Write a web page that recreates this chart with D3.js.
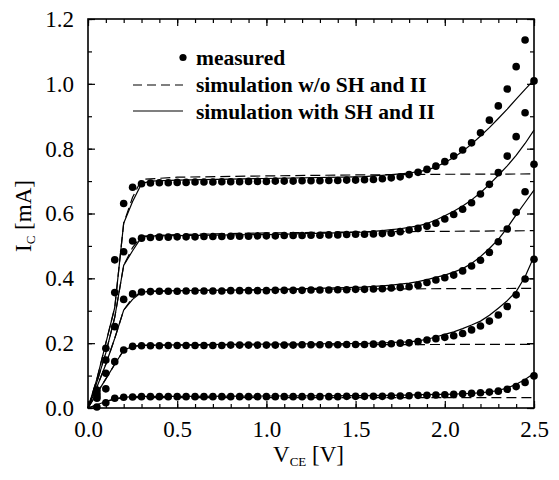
<!DOCTYPE html>
<html><head><meta charset="utf-8">
<script src="https://cdn.jsdelivr.net/npm/d3@7"></script>
<style>
body{margin:0;background:#fff}
svg text{font-family:"Liberation Serif","Times New Roman",Times,serif;fill:#000}
</style>
</head><body>
<svg id="chart" width="559" height="480"></svg>
<script>
// ---- data ----
const vMeas = [0.05,0.10,0.15,0.20,0.25,0.30,0.35,0.40,0.45,0.50,
               0.55,0.60,0.65,0.70,0.75,0.80,0.85,0.90,0.95,1.00,
               1.05,1.10,1.15,1.20,1.25,1.30,1.35,1.40,1.45,1.50,
               1.55,1.60,1.65,1.70,1.75,1.80,1.85,1.90,1.95,2.00,
               2.05,2.10,2.15,2.20,2.25,2.30,2.35,2.40,2.45,2.50];
const meas1 = [0.003,0.016,0.030,0.033,0.034,0.035,0.035,0.035,0.035,0.035,
               0.035,0.035,0.035,0.035,0.035,0.035,0.035,0.035,0.035,0.035,
               0.035,0.035,0.035,0.035,0.035,0.035,0.035,0.035,0.036,0.036,
               0.036,0.036,0.036,0.037,0.037,0.038,0.039,0.039,0.040,0.041,
               0.042,0.044,0.045,0.047,0.049,0.052,0.058,0.066,0.079,0.099];
const meas2 = [0.030,0.059,0.143,0.179,0.190,0.192,0.192,0.192,0.193,0.193,
               0.193,0.193,0.193,0.193,0.193,0.194,0.194,0.194,0.194,0.194,
               0.194,0.194,0.194,0.195,0.195,0.195,0.195,0.195,0.196,0.196,
               0.196,0.197,0.197,0.198,0.200,0.201,0.205,0.210,0.214,0.218,
               0.223,0.230,0.241,0.253,0.268,0.287,0.313,0.349,0.398,0.459];
const meas3 = [0.037,0.107,0.251,0.335,0.352,0.358,0.359,0.360,0.360,0.360,
               0.361,0.361,0.361,0.361,0.361,0.362,0.362,0.362,0.362,0.362,
               0.363,0.363,0.363,0.363,0.364,0.364,0.364,0.365,0.365,0.366,
               0.366,0.367,0.368,0.370,0.372,0.374,0.379,0.387,0.395,0.402,
               0.410,0.423,0.438,0.456,0.480,0.513,0.552,0.604,0.667,0.752];
const meas4 = [0.045,0.148,0.356,0.482,0.515,0.524,0.526,0.527,0.527,0.528,
               0.528,0.528,0.529,0.529,0.529,0.530,0.530,0.530,0.531,0.531,
               0.531,0.532,0.532,0.532,0.533,0.533,0.534,0.534,0.535,0.536,
               0.536,0.537,0.538,0.539,0.544,0.549,0.554,0.561,0.570,0.583,
               0.597,0.613,0.633,0.660,0.690,0.726,0.777,0.837,0.911,1.009];
const meas5 = [0.055,0.184,0.457,0.631,0.681,0.692,0.694,0.695,0.695,0.696,
               0.696,0.697,0.697,0.697,0.698,0.698,0.698,0.699,0.699,0.699,
               0.700,0.700,0.700,0.701,0.701,0.701,0.702,0.702,0.703,0.703,
               0.704,0.705,0.707,0.710,0.713,0.720,0.727,0.736,0.746,0.760,
               0.777,0.796,0.818,0.849,0.888,0.932,0.984,1.053,1.135,null];

// simulation with self-heating and impact ionization (solid)
const vSim = [0,0.05,0.10,0.15,0.20,0.25,0.30,0.35,0.50,1.00,
              1.50,1.55,1.60,1.65,1.70,1.75,1.80,1.85,1.90,1.95,
              2.00,2.05,2.10,2.15,2.20,2.25,2.30,2.35,2.40,2.45,2.50];
const simSH1 = [0,0.010,0.020,0.028,0.033,0.035,0.036,0.036,0.036,0.037,
                0.038,0.038,0.039,0.039,0.039,0.040,0.040,0.041,0.041,0.042,
                0.042,0.043,0.044,0.045,0.047,0.050,0.054,0.062,0.073,0.088,0.107];
const simSH2 = [0,0.045,0.090,0.135,0.178,0.190,0.193,0.194,0.195,0.197,
                0.199,0.199,0.200,0.201,0.202,0.203,0.204,0.207,0.212,0.219,
                0.227,0.235,0.245,0.256,0.268,0.286,0.308,0.331,0.359,0.405,0.467];
const simSH3 = [0,0.065,0.135,0.215,0.302,0.335,0.357,0.360,0.362,0.365,
                0.372,0.373,0.375,0.377,0.379,0.382,0.385,0.390,0.396,0.403,
                0.410,0.419,0.430,0.446,0.467,0.492,0.520,0.556,0.596,0.634,0.672];
const simSH4 = [0,0.080,0.170,0.280,0.440,0.485,0.527,0.530,0.532,0.535,
                0.542,0.543,0.545,0.547,0.550,0.553,0.557,0.562,0.569,0.580,
                0.593,0.607,0.623,0.642,0.664,0.690,0.718,0.747,0.779,0.816,0.857];
const simSH5 = [0,0.090,0.200,0.310,0.570,0.637,0.692,0.700,0.703,0.708,
                0.713,0.714,0.716,0.718,0.720,0.722,0.725,0.729,0.734,0.744,
                0.757,0.773,0.792,0.814,0.839,0.865,0.893,0.922,0.953,0.983,1.012];
// simulation without self-heating and impact ionization (dashed)
const vNo = [0,0.05,0.10,0.15,0.20,0.25,0.30,0.50,1.00,1.50,2.00,2.50];
const simNo1 = [0,0.010,0.020,0.028,0.032,0.032,0.032,0.032,0.032,0.032,0.032,0.032];
const simNo2 = [0,0.045,0.090,0.135,0.178,0.190,0.193,0.194,0.195,0.195,0.196,0.196];
const simNo3 = [0,0.065,0.135,0.215,0.302,0.340,0.359,0.362,0.365,0.367,0.368,0.369];
const simNo4 = [0,0.080,0.170,0.280,0.440,0.495,0.530,0.535,0.540,0.543,0.545,0.547];
const simNo5 = [0,0.090,0.200,0.310,0.570,0.650,0.705,0.712,0.716,0.719,0.721,0.722];

const xTicks = [0,0.5,1.0,1.5,2.0,2.5];
const yTicks = [0,0.2,0.4,0.6,0.8,1.0,1.2];
const legendLabels = ["measured","simulation w/o SH and II","simulation with SH and II"];

// ---- layout ----
const L = 88, R = 534, T = 19, B = 408;
const svg = d3.select("#chart");
const x = d3.scaleLinear().domain([0,2.5]).range([L,R]);
const y = d3.scaleLinear().domain([0,1.2]).range([B,T]);
const fmt = d3.format(".1f");
const xMinor = d3.range(0,2.501,0.1).map(v=>+v.toFixed(2));
const yMinor = d3.range(0,1.201,0.1).map(v=>+v.toFixed(2));

function styleAxis(g){
  g.select(".domain").remove();
  g.selectAll(".tick line").attr("stroke","#000").attr("stroke-width",1.2);
  g.selectAll("text").style("font-size","23px").attr("fill","#000");
}
// bottom
svg.append("g").attr("transform",`translate(0,${B})`)
  .call(d3.axisBottom(x).tickValues(xMinor).tickFormat("").tickSizeInner(-4).tickSizeOuter(0)).call(styleAxis);
svg.append("g").attr("transform",`translate(0,${B})`)
  .call(d3.axisBottom(x).tickValues(xTicks).tickFormat(fmt).tickSizeInner(-7).tickSizeOuter(0).tickPadding(13)).call(styleAxis);
// top
svg.append("g").attr("transform",`translate(0,${T})`)
  .call(d3.axisTop(x).tickValues(xMinor).tickFormat("").tickSizeInner(-4).tickSizeOuter(0)).call(styleAxis);
svg.append("g").attr("transform",`translate(0,${T})`)
  .call(d3.axisTop(x).tickValues(xTicks).tickFormat("").tickSizeInner(-7).tickSizeOuter(0)).call(styleAxis);
// left
svg.append("g").attr("transform",`translate(${L},0)`)
  .call(d3.axisLeft(y).tickValues(yMinor).tickFormat("").tickSizeInner(-4).tickSizeOuter(0)).call(styleAxis);
svg.append("g").attr("transform",`translate(${L},0)`)
  .call(d3.axisLeft(y).tickValues(yTicks).tickFormat(fmt).tickSizeInner(-7).tickSizeOuter(0).tickPadding(14)).call(styleAxis);
// right
svg.append("g").attr("transform",`translate(${R},0)`)
  .call(d3.axisRight(y).tickValues(yMinor).tickFormat("").tickSizeInner(-4).tickSizeOuter(0)).call(styleAxis);
svg.append("g").attr("transform",`translate(${R},0)`)
  .call(d3.axisRight(y).tickValues(yTicks).tickFormat("").tickSizeInner(-7).tickSizeOuter(0)).call(styleAxis);

// frame
svg.append("rect").attr("x",L).attr("y",T).attr("width",R-L).attr("height",B-T)
  .attr("fill","none").attr("stroke","#000").attr("stroke-width",1.6);

// ---- curves ----
const line = d3.line().defined(d=>d[1]!=null).x(d=>x(d[0])).y(d=>y(d[1])).curve(d3.curveLinear);
const gLines = svg.append("g");
[simNo1,simNo2,simNo3,simNo4,simNo5].forEach(s=>{
  gLines.append("path").datum(vNo.map((v,i)=>[v,s[i]])).attr("d",line)
    .attr("fill","none").attr("stroke","#000").attr("stroke-width",1.2).attr("stroke-dasharray","10,5");
});
[simSH1,simSH2,simSH3,simSH4,simSH5].forEach(s=>{
  gLines.append("path").datum(vSim.map((v,i)=>[v,s[i]])).attr("d",line)
    .attr("fill","none").attr("stroke","#000").attr("stroke-width",1.2).attr("stroke-linejoin","round");
});
const gDots = svg.append("g");
[meas1,meas2,meas3,meas4,meas5].forEach(s=>{
  gDots.selectAll(null).data(vMeas.map((v,i)=>[v,s[i]]).filter(d=>d[1]!=null)).enter()
    .append("circle").attr("cx",d=>x(d[0])).attr("cy",d=>y(d[1])).attr("r",3.8).attr("fill","#000");
});

// ---- legend ----
const lg = svg.append("g");
lg.append("circle").attr("cx",183).attr("cy",57.5).attr("r",3.6).attr("fill","#000");
lg.append("line").attr("x1",133).attr("x2",183).attr("y1",85).attr("y2",85)
  .attr("stroke","#000").attr("stroke-width",1.2).attr("stroke-dasharray","9,5");
lg.append("line").attr("x1",133).attr("x2",183).attr("y1",111).attr("y2",111)
  .attr("stroke","#000").attr("stroke-width",1.2);
[65,92,118.5].forEach((yy,i)=>{
  lg.append("text").attr("x",196).attr("y",yy).style("font-size","21.5px").style("font-weight","bold").text(legendLabels[i]);
});

// ---- axis titles ----
const xt = svg.append("text").attr("x",273).attr("y",462).style("font-size","23px");
xt.append("tspan").text("V");
xt.append("tspan").attr("dy",4).style("font-size","13px").text("CE");
xt.append("tspan").attr("dy",-4).text(" [V]");
const yt = svg.append("text").attr("transform","translate(31,252) rotate(-90)").style("font-size","23px");
yt.append("tspan").text("I");
yt.append("tspan").attr("dy",4).style("font-size","13px").text("C");
yt.append("tspan").attr("dy",-4).text(" [mA]");
</script>
</body></html>
